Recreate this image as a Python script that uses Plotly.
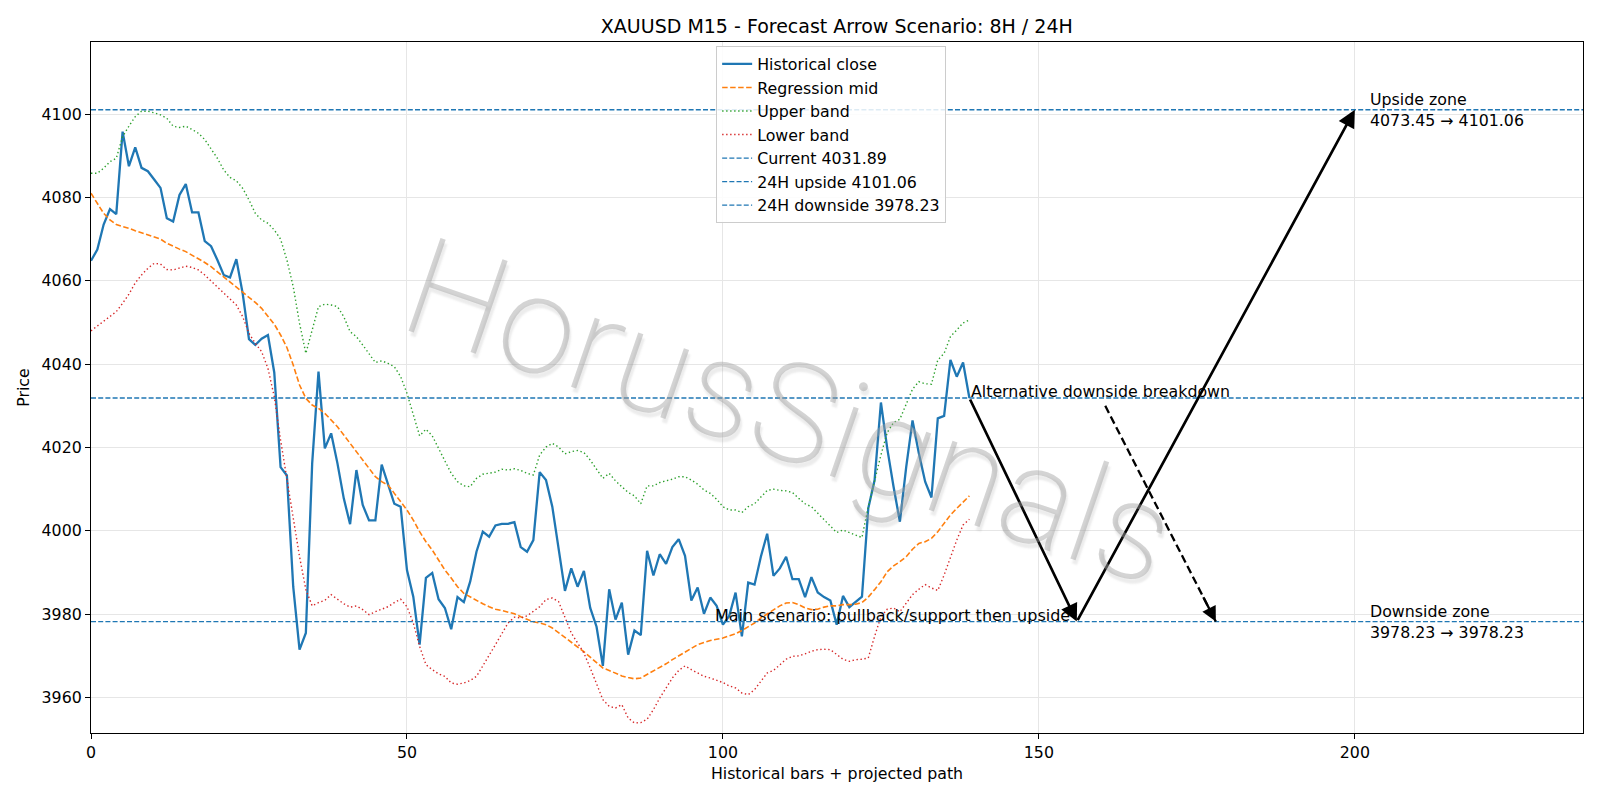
import plotly.graph_objects as go

# ---------------- data ----------------
close = [4064.8, 4067.5, 4073.5, 4077.2, 4076.0, 4095.8, 4087.5, 4092.0, 4087.1, 4086.3,
         4084.3, 4082.3, 4075.0, 4074.2, 4080.6, 4083.2, 4076.4, 4076.4, 4069.5, 4068.3,
         4065.0, 4061.4, 4060.8, 4065.2, 4057.0, 4046.0, 4044.6, 4046.1, 4047.0, 4038.0,
         4015.3, 4013.3, 3986.6, 3971.5, 3975.5, 4016.2, 4038.2, 4019.8, 4023.4, 4016.2,
         4007.8, 4001.6, 4014.6, 4006.2, 4002.5, 4002.5, 4015.9, 4011.4, 4006.5, 4005.8,
         3990.6, 3984.2, 3972.7, 3988.7, 3989.9, 3983.6, 3981.5, 3976.4, 3984.1, 3982.9,
         3987.8, 3995.0, 3999.8, 3998.6, 4001.3, 4001.7, 4001.7, 4002.1, 3996.1, 3995.0,
         3997.8, 4014.1, 4012.2, 4005.8, 3996.2, 3985.6, 3991.0, 3986.6, 3990.4, 3981.5,
         3977.0, 3967.6, 3986.0, 3978.7, 3982.8, 3970.3, 3976.1, 3975.0, 3995.2, 3989.3,
         3994.4, 3992.1, 3996.1, 3998.0, 3994.0, 3983.3, 3986.4, 3980.1, 3984.0, 3982.0,
         3977.5, 3979.6, 3985.2, 3974.7, 3987.6, 3987.1, 3993.8, 3999.3, 3989.2, 3991.0,
         3993.8, 3988.4, 3988.4, 3984.1, 3988.9, 3985.2, 3984.1, 3983.3, 3977.5, 3984.4,
         3981.7, 3983.0, 3984.2, 4005.4, 4012.2, 4030.8, 4019.8, 4010.6, 4002.2, 4015.3,
         4026.5, 4018.6, 4011.8, 4008.0, 4027.0, 4027.6, 4041.0, 4037.0, 4040.4, 4031.89]

reg_mid = [4081.0, 4078.6, 4076.2, 4074.6, 4073.5, 4073.0, 4072.6, 4072.0, 4071.5, 4071.0,
           4070.6, 4070.0, 4069.0, 4068.2, 4067.6, 4067.0, 4066.2, 4065.4, 4064.4, 4063.4,
           4062.2, 4061.0, 4059.8, 4058.6, 4057.4, 4056.2, 4054.8, 4053.4, 4051.6, 4049.6,
           4047.0, 4044.0, 4039.8, 4035.0, 4031.8, 4030.2, 4029.4, 4028.2, 4026.6, 4025.0,
           4023.0, 4021.0, 4019.0, 4017.0, 4015.0, 4013.0, 4011.8, 4011.0, 4009.0, 4007.0,
           4005.0, 4002.6, 3999.8, 3997.4, 3995.4, 3993.0, 3990.6, 3988.7, 3986.6, 3985.0,
           3984.1, 3983.3, 3982.5, 3981.8, 3981.2, 3980.9, 3980.5, 3980.1, 3979.4, 3978.8,
           3978.2, 3977.9, 3977.5, 3976.7, 3975.6, 3974.5, 3973.2, 3972.1, 3971.0, 3969.7,
           3968.3, 3967.1, 3966.5, 3965.9, 3965.2, 3964.8, 3964.5, 3964.7, 3965.5, 3966.3,
           3967.1, 3968.1, 3969.1, 3970.0, 3971.1, 3971.9, 3972.7, 3973.2, 3973.7, 3974.0,
           3974.3, 3974.8, 3975.3, 3976.1, 3977.0, 3977.9, 3979.1, 3980.1, 3981.1, 3982.0,
           3982.7, 3982.8, 3982.3, 3981.5, 3981.1, 3981.2, 3981.7, 3982.0, 3982.0, 3982.3,
           3982.3, 3982.4, 3982.8, 3984.1, 3985.9, 3987.8, 3990.2, 3991.6, 3992.6, 3993.8,
           3995.6, 3997.0, 3997.4, 3998.2, 3999.8, 4001.8, 4003.8, 4005.4, 4007.0, 4008.4]

upper_band = [4085.8, 4085.8, 4087.0, 4088.6, 4089.4, 4094.6, 4097.1, 4099.4, 4100.7, 4100.7,
              4100.3, 4099.8, 4099.0, 4097.1, 4096.8, 4097.1, 4096.3, 4095.4, 4093.9, 4091.8,
              4089.4, 4086.6, 4084.8, 4084.0, 4082.2, 4079.4, 4076.2, 4074.6, 4073.8, 4072.2,
              4070.0, 4065.0, 4058.6, 4049.8, 4042.6, 4048.2, 4053.8, 4054.4, 4054.2, 4053.8,
              4051.4, 4047.8, 4046.6, 4044.6, 4042.6, 4040.4, 4040.8, 4040.2, 4039.4, 4037.0,
              4033.0, 4028.2, 4022.8, 4024.4, 4022.8, 4019.8, 4016.6, 4013.8, 4011.8, 4010.8,
              4010.6, 4012.6, 4013.6, 4013.8, 4014.1, 4014.8, 4014.6, 4014.9, 4014.5, 4013.8,
              4013.4, 4018.2, 4020.1, 4021.0, 4020.1, 4018.5, 4019.0, 4019.3, 4018.8, 4017.0,
              4014.8, 4012.6, 4013.8, 4012.0, 4010.6, 4009.2, 4008.4, 4006.5, 4010.8, 4010.8,
              4011.6, 4012.0, 4012.4, 4013.0, 4013.0, 4012.2, 4011.2, 4009.8, 4009.0, 4007.6,
              4005.8, 4005.0, 4005.0, 4004.4, 4005.8, 4006.5, 4008.2, 4009.7, 4010.0, 4009.7,
              4009.6, 4009.2, 4007.8, 4006.5, 4005.8, 4004.2, 4002.8, 4001.2, 3999.6, 4000.2,
              3999.6, 3999.0, 3998.4, 4005.8, 4012.2, 4018.2, 4023.6, 4026.0, 4026.8, 4030.6,
              4034.0, 4035.8, 4035.3, 4035.2, 4041.0, 4042.6, 4046.6, 4048.2, 4049.9, 4050.6]

lower_band = [4048.0, 4049.2, 4050.4, 4051.4, 4052.6, 4054.6, 4056.8, 4059.5, 4061.4, 4063.0,
              4064.2, 4064.0, 4062.7, 4062.6, 4063.0, 4063.5, 4063.2, 4062.6, 4061.4, 4060.0,
              4058.6, 4057.0, 4055.6, 4054.2, 4051.4, 4047.4, 4045.0, 4043.0, 4039.0, 4032.2,
              4021.8, 4012.2, 4002.6, 3993.8, 3985.9, 3982.0, 3982.8, 3983.3, 3984.7, 3983.6,
              3982.5, 3981.7, 3982.0, 3981.1, 3979.9, 3980.6, 3981.2, 3981.8, 3982.8, 3983.6,
              3981.8, 3977.9, 3972.3, 3967.9, 3966.7, 3965.7, 3965.1, 3963.5, 3963.2, 3963.5,
              3964.1, 3965.1, 3967.6, 3970.3, 3972.7, 3975.3, 3977.9, 3979.3, 3979.1, 3979.6,
              3980.6, 3981.8, 3983.5, 3983.9, 3983.0, 3979.1, 3975.5, 3973.1, 3970.7, 3967.1,
              3963.1, 3959.5, 3957.9, 3957.5, 3958.3, 3955.1, 3953.9, 3954.0, 3954.8, 3957.1,
              3959.9, 3962.3, 3964.7, 3966.5, 3967.6, 3966.7, 3965.9, 3965.1, 3964.7, 3964.1,
              3963.6, 3962.8, 3962.3, 3961.1, 3960.7, 3961.9, 3963.9, 3965.9, 3966.5, 3967.9,
              3969.2, 3969.9, 3970.0, 3970.5, 3971.1, 3971.5, 3971.6, 3971.5, 3970.3, 3969.2,
              3968.7, 3969.1, 3969.2, 3969.5, 3974.7, 3979.4, 3981.2, 3981.5, 3980.6, 3982.7,
              3984.7, 3986.0, 3987.1, 3986.3, 3985.7, 3989.4, 3993.8, 3997.8, 4001.4, 4002.8]

bars = list(range(len(close)))

current_price = 4031.89
upside_24h = 4101.06
downside_24h = 3978.23
upside_zone = (4073.45, 4101.06)
downside_zone = (3978.23, 3978.23)

# projected main scenario path (bar, price): pullback to support, then upside
main_path_x = [139, 156, 200]
main_path_y = [current_price, downside_24h, upside_24h]
# alternative scenario (dashed)
alt_path_x = [160.5, 178]
alt_path_y = [4030.0, downside_24h]

x_range = [0, 236.1]
y_range = [3951.5, 4117.3]
x_ticks = [0, 50, 100, 150, 200]
y_ticks = [3960, 3980, 4000, 4020, 4040, 4060, 4080, 4100]

BLUE = "#1f77b4"
ORANGE = "#ff7f0e"
GREEN = "#2ca02c"
RED = "#d62728"
FONT = "DejaVu Sans"
FS = 15.8

fig = go.Figure()

fig.add_trace(go.Scatter(x=bars, y=close, mode="lines", name="Historical close",
                         line=dict(color=BLUE, width=2.3)))
fig.add_trace(go.Scatter(x=bars, y=reg_mid, mode="lines", name="Regression mid",
                         line=dict(color=ORANGE, width=1.6, dash="5.5px,2.5px")))
fig.add_trace(go.Scatter(x=bars, y=upper_band, mode="lines", name="Upper band",
                         line=dict(color=GREEN, width=1.4, dash="1.4px,2.6px")))
fig.add_trace(go.Scatter(x=bars, y=lower_band, mode="lines", name="Lower band",
                         line=dict(color=RED, width=1.4, dash="1.4px,2.6px")))

for lvl, nm in [(current_price, f"Current {current_price:.2f}"),
                (upside_24h, f"24H upside {upside_24h:.2f}"),
                (downside_24h, f"24H downside {downside_24h:.2f}")]:
    fig.add_trace(go.Scatter(x=x_range, y=[lvl, lvl], mode="lines", name=nm,
                             line=dict(color=BLUE, width=1.4, dash="5px,2.2px")))

# alternative dashed path body
fig.add_trace(go.Scatter(x=alt_path_x, y=alt_path_y, mode="lines", showlegend=False,
                         hoverinfo="skip",
                         line=dict(color="black", width=2.3, dash="8px,4px")))

annotations = []
# main scenario arrows
for i in range(len(main_path_x) - 1):
    annotations.append(dict(x=main_path_x[i + 1], y=main_path_y[i + 1],
                            ax=main_path_x[i], ay=main_path_y[i],
                            xref="x", yref="y", axref="x", ayref="y",
                            text="", showarrow=True, arrowhead=2, arrowsize=1.3,
                            arrowwidth=2.7, arrowcolor="black", standoff=0, startstandoff=0))
# alternative arrow head
ax_tail = alt_path_x[1] - 0.12 * (alt_path_x[1] - alt_path_x[0])
ay_tail = alt_path_y[1] - 0.12 * (alt_path_y[1] - alt_path_y[0])
annotations.append(dict(x=alt_path_x[1], y=alt_path_y[1], ax=ax_tail, ay=ay_tail,
                        xref="x", yref="y", axref="x", ayref="y",
                        text="", showarrow=True, arrowhead=2, arrowsize=1.3,
                        arrowwidth=2.3, arrowcolor="black", standoff=0))

annotations += [
    dict(x=main_path_x[0], y=current_price, xref="x", yref="y",
         text="Alternative downside breakdown", showarrow=False,
         xanchor="left", yanchor="bottom", yshift=-5,
         font=dict(family=FONT, size=FS, color="black")),
    dict(x=155.2, y=downside_24h, xref="x", yref="y",
         text="Main scenario: pullback/support then upside", showarrow=False,
         xanchor="right", yanchor="bottom", yshift=-5,
         font=dict(family=FONT, size=16, color="black")),
    dict(x=202, y=upside_24h, xref="x", yref="y",
         text=f"Upside zone<br>{upside_zone[0]:.2f} \u2192 {upside_zone[1]:.2f}",
         showarrow=False, xanchor="left", yanchor="middle", align="left",
         font=dict(family=FONT, size=FS, color="black")),
    dict(x=202, y=downside_24h, xref="x", yref="y",
         text=f"Downside zone<br>{downside_zone[0]:.2f} \u2192 {downside_zone[1]:.2f}",
         showarrow=False, xanchor="left", yanchor="middle", align="left",
         font=dict(family=FONT, size=FS, color="black")),
    # watermark
    dict(x=0.468, y=0.465, xref="paper", yref="paper", text="HorusSignals",
         showarrow=False, textangle=19,
         font=dict(family="Roboto", size=138, weight=200,
                   color="rgba(160,160,160,0.45)",
                   shadow="3px 4px 2px rgba(120,120,120,0.3)")),
]

fig.update_layout(
    width=1600, height=800,
    margin=dict(l=91, r=17, t=42, b=67),
    paper_bgcolor="white", plot_bgcolor="white",
    font=dict(family=FONT, size=FS, color="black"),
    title=dict(text="XAUUSD M15 - Forecast Arrow Scenario: 8H / 24H",
               x=0.523, xanchor="center", y=0.967, yanchor="middle",
               font=dict(family=FONT, size=19, color="black")),
    xaxis=dict(range=x_range, tickvals=x_ticks, showline=True, linecolor="black",
               linewidth=1.2, mirror=True, ticks="outside", ticklen=5, tickcolor="black",
               showgrid=True, gridcolor="#e6e6e6", gridwidth=1, zeroline=False,
               tickfont=dict(size=FS),
               title=dict(text="Historical bars + projected path", standoff=6,
                          font=dict(size=FS))),
    yaxis=dict(range=y_range, tickvals=y_ticks, showline=True, linecolor="black",
               linewidth=1.2, mirror=True, ticks="outside", ticklen=5, tickcolor="black",
               showgrid=True, gridcolor="#e6e6e6", gridwidth=1, zeroline=False,
               tickfont=dict(size=FS),
               title=dict(text="Price", standoff=8, font=dict(size=FS))),
    legend=dict(x=0.419, y=0.994, xanchor="left", yanchor="top",
                bgcolor="rgba(255,255,255,0.85)", bordercolor="#cccccc", borderwidth=1,
                font=dict(family=FONT, size=FS), itemwidth=30, tracegroupgap=0),
    annotations=annotations,
    showlegend=True,
)

fig.write_html("out.html")
